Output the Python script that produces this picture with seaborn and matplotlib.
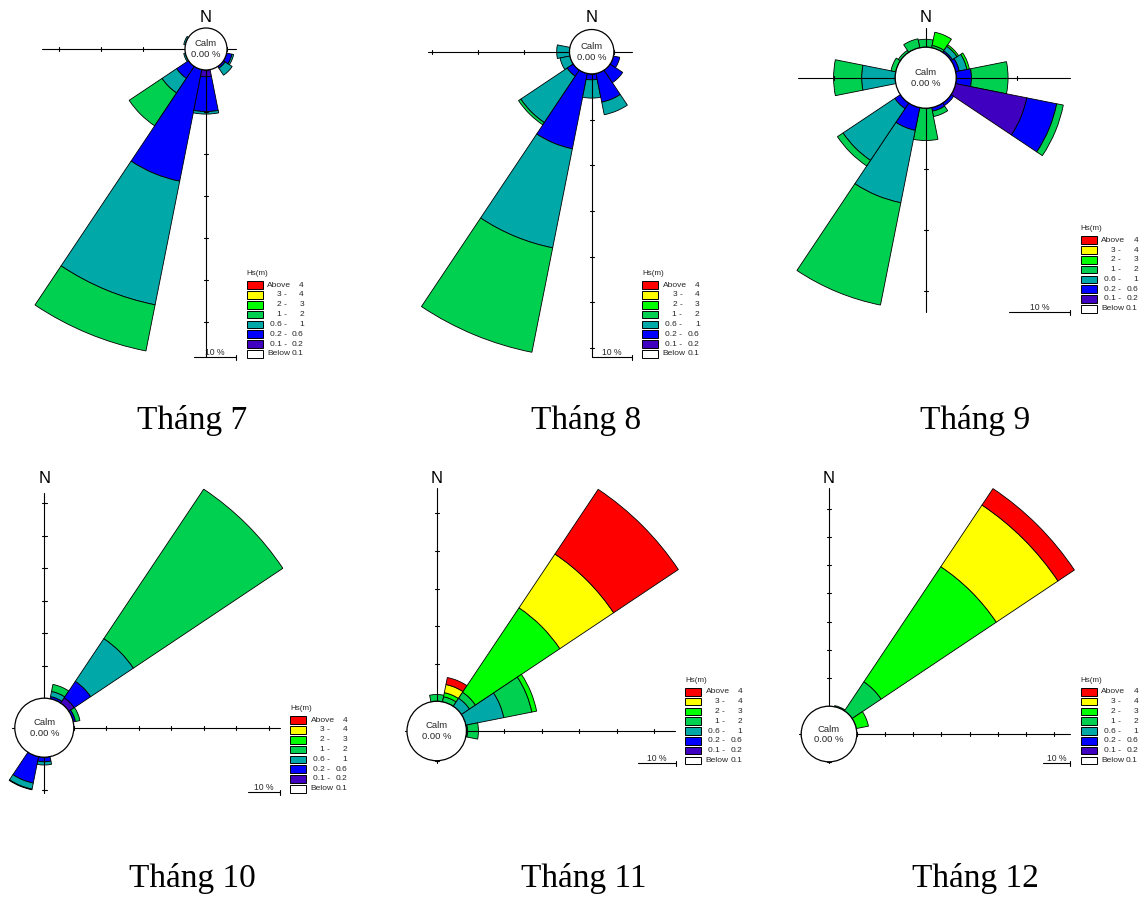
import matplotlib
matplotlib.use("Agg")
import matplotlib.pyplot as plt
from matplotlib.patches import Wedge, Circle, Rectangle
import seaborn as sns

# ---------------------------------------------------------------- data
DIRECTIONS = ["N", "NNE", "NE", "ENE", "E", "ESE", "SE", "SSE",
              "S", "SSW", "SW", "WSW", "W", "WNW", "NW", "NNW"]
HS_CLASSES = ["Below 0.1", "0.1 - 0.2", "0.2 - 0.6", "0.6 - 1",
              "1 - 2", "2 - 3", "3 - 4", "Above 4"]
HS_COLORS = ["#FFFFFF", "#4000C0", "#0000FF", "#00A8A8",
             "#00D050", "#00FF00", "#FFFF00", "#FF0000"]
LEGEND_LEFT = ["Above", "3 -", "2 -", "1 -", "0.6 -", "0.2 -", "0.1 -", "Below"]
LEGEND_RIGHT = ["4", "4", "3", "2", "1", "0.6", "0.2", "0.1"]
CALM_PCT = [0.0, 0.0, 0.0, 0.0, 0.0, 0.0]
TITLES = ["Tháng 7", "Tháng 8", "Tháng 9", "Tháng 10", "Tháng 11", "Tháng 12"]

# frequency (%) per direction; columns follow HS_CLASSES
JUL_DIRS = ["WNW", "WSW", "SW", "SSW", "S", "SE", "ESE"]
JUL_PCT = [
    [0, 0, 0.0, 0.4, 0.0, 0, 0, 0],
    [0, 0, 0.0, 0.4, 0.0, 0, 0, 0],
    [0, 0, 3.4, 4.2, 9.4, 0, 0, 0],
    [0, 0, 27.1, 30.0, 11.2, 0, 0, 0],
    [0, 1.6, 8.3, 0.6, 0.0, 0, 0, 0],
    [0, 0, 0.5, 2.0, 0.0, 0, 0, 0],
    [0, 0, 1.3, 0.4, 0.0, 0, 0, 0],
]

AUG_DIRS = ["W", "WSW", "SW", "SSW", "S", "SSE", "SE", "ESE"]
AUG_PCT = [
    [0, 0, 0.0, 2.8, 0.0, 0, 0, 0],
    [0, 0, 0.0, 2.2, 0.0, 0, 0, 0],
    [0, 0, 1.6, 12.2, 0.6, 0, 0, 0],
    [0, 0, 16.8, 22.1, 23.3, 0, 0, 0],
    [0, 0, 1.3, 4.0, 0.0, 0, 0, 0],
    [0, 0, 6.4, 2.8, 0.0, 0, 0, 0],
    [0, 0, 3.3, 0.0, 0.0, 0, 0, 0],
    [0, 0, 1.4, 0.0, 0.0, 0, 0, 0],
]

SEP_DIRS = ["N", "NNE", "NE", "ENE", "E", "ESE", "SE", "SSE",
            "S", "SSW", "SW", "W", "WNW", "NW", "NNW"]
SEP_PCT = [
    [0, 0, 0.0, 0.0, 1.3, 0.0, 0, 0],
    [0, 0, 0.0, 0.0, 0.4, 2.2, 0, 0],
    [0, 0, 0.3, 0.9, 0.0, 0.3, 0, 0],
    [0, 0, 0.6, 1.3, 0.0, 0.4, 0, 0],
    [0, 0, 2.5, 0.0, 6.0, 0.0, 0, 0],
    [0, 11.9, 5.0, 0.0, 1.1, 0.0, 0, 0],
    [0, 0, 0.5, 0.0, 0.0, 0.0, 0, 0],
    [0, 0, 0.6, 0.0, 0.9, 0.0, 0, 0],
    [0, 0, 0.0, 0.0, 5.3, 0.0, 0, 0],
    [0, 0, 3.8, 12.1, 17.1, 0.0, 0, 0],
    [0, 0, 1.1, 10.2, 1.1, 0.0, 0, 0],
    [0, 0, 0.0, 5.5, 4.6, 0.0, 0, 0],
    [0, 0, 0.0, 0.0, 0.8, 0.0, 0, 0],
    [0, 0, 0.0, 0.0, 0.4, 0.0, 0, 0],
    [0, 0, 0.0, 0.0, 1.5, 0.0, 0, 0],
]

OCT_DIRS = ["NNE", "NE", "ENE", "S", "SSW"]
OCT_PCT = [
    [0, 0.0, 0.7, 1.6, 2.2, 0, 0, 0],
    [0, 2.0, 6.1, 15.8, 55.3, 0, 0, 0],
    [0, 0.0, 0.7, 0.0, 1.4, 0, 0, 0],
    [0, 0.0, 1.4, 1.0, 0.0, 0, 0, 0],
    [0, 0.0, 8.3, 1.9, 0.2, 0, 0, 0],
]

NOV_DIRS = ["N", "NNE", "NE", "ENE", "E"]
NOV_PCT = [
    [0, 0, 0, 0.0, 1.8, 0.0, 0.0, 0.0],
    [0, 0, 0, 0.0, 1.4, 1.1, 2.2, 1.9],
    [0, 0, 0, 2.6, 1.9, 27.0, 17.2, 20.7],
    [0, 0, 0, 10.3, 7.6, 1.3, 0.0, 0.0],
    [0, 0, 0, 0.3, 2.9, 0.0, 0.0, 0.0],
]

DEC_DIRS = ["NNE", "NE", "ENE"]
DEC_PCT = [
    [0, 0, 0, 0, 0.4, 0.0, 0.0, 0.0],
    [0, 0, 0, 0, 12.4, 49.1, 26.3, 7.0],
    [0, 0, 0, 0, 0.0, 4.4, 0.0, 0.0],
]

MONTH_DATA = [(JUL_DIRS, JUL_PCT), (AUG_DIRS, AUG_PCT), (SEP_DIRS, SEP_PCT),
              (OCT_DIRS, OCT_PCT), (NOV_DIRS, NOV_PCT), (DEC_DIRS, DEC_PCT)]

# -------------------------------------------------------------- layout
# centre, calm radius, pixels per percent, axis extents, legend anchor,
# scale bar, "N" label and title positions (figure pixels)
LAYOUT = [
    dict(c=(206, 49), rc=21, s=4.2, hx=(42, 236), vy=(49, 357.3),
         leg=(246.5, 273.3), bar=(194.3, 236, 357.3), n=17, title=(192, 421)),
    dict(c=(591.7, 51.7), rc=22.2, s=4.57, hx=(428.3, 631.7), vy=(51.7, 357.3),
         leg=(642.3, 273.3), bar=(591.7, 632.3, 357.3), n=17.3, title=(586, 421)),
    dict(c=(925.7, 77.7), rc=30.5, s=6.1, hx=(798.3, 1070), vy=(28.3, 311.7),
         leg=(1080.7, 228.3), bar=(1009.3, 1070, 312.3), n=17.3, title=(975, 421)),
    dict(c=(44.3, 727.7), rc=29.5, s=3.25, hx=(11.7, 280), vy=(493.3, 793.3),
         leg=(290, 708.3), bar=(248.3, 280, 792.3), n=478.3, title=(192, 879)),
    dict(c=(436.7, 731), rc=29.7, s=3.76, hx=(405, 675), vy=(488.3, 763.3),
         leg=(685, 680), bar=(637.7, 675.7, 763.3), n=478.3, title=(584, 879)),
    dict(c=(829, 734), rc=27.8, s=2.82, hx=(799.3, 1070), vy=(488.3, 763.3),
         leg=(1080.7, 680), bar=(1042.7, 1070, 763.3), n=478.3, title=(975, 879)),
]

# -------------------------------------------------------------- styling
sns.set_theme(style="white")
plt.rcParams["font.family"] = ["Liberation Sans", "DejaVu Sans"]
palette = sns.color_palette(HS_COLORS)

W, H = 1142, 898
fig = plt.figure(figsize=(W / 100, H / 100), dpi=100)
ax = fig.add_axes([0, 0, 1, 1])
ax.set_xlim(0, W)
ax.set_ylim(H, 0)
ax.set_aspect("equal")
ax.axis("off")

HALF = 360 / len(DIRECTIONS) / 2
TEXT_GREY = "#262626"


def draw_rose(dirs, pct, lay):
    cx, cy = lay["c"]
    rc, s = lay["rc"], lay["s"]
    # stacked sectors
    for d, row in zip(dirs, pct):
        bearing = DIRECTIONS.index(d) * 22.5
        t1, t2 = bearing - HALF - 90, bearing + HALF - 90
        cum = 0.0
        for k, v in enumerate(row):
            if v <= 0:
                continue
            r_in = rc + cum * s
            cum += v
            r_out = rc + cum * s
            ax.add_patch(Wedge((cx, cy), r_out, t1, t2, width=r_out - r_in,
                               facecolor=palette[k], edgecolor="black",
                               linewidth=0.6, zorder=2))
    # cross-hair axes with 10 % ticks
    x0, x1 = lay["hx"]
    y0, y1 = lay["vy"]
    ax.plot([x0, x1], [cy, cy], color="black", lw=0.8, zorder=3)
    ax.plot([cx, cx], [y0, y1], color="black", lw=0.8, zorder=3)
    step = 10 * s
    for sign, lim in ((-1, cx - x0), (1, x1 - cx)):
        r = rc
        while r <= lim + 0.5:
            ax.plot([cx + sign * r] * 2, [cy - 2.2, cy + 2.2], color="black",
                    lw=0.8, zorder=3)
            r += step
    for sign, lim in ((-1, cy - y0), (1, y1 - cy)):
        r = rc
        while r <= lim + 0.5:
            ax.plot([cx - 2.2, cx + 2.2], [cy + sign * r] * 2, color="black",
                    lw=0.8, zorder=3)
            r += step
    # calm circle
    ax.add_patch(Circle((cx, cy), rc, facecolor="white", edgecolor="black",
                        linewidth=0.9, zorder=4))
    ax.text(cx, cy - 5, "Calm", ha="center", va="center", fontsize=6.8,
            color=TEXT_GREY, zorder=5)
    ax.text(cx, cy + 5.5, f"{lay['calm']:.2f} %", ha="center", va="center",
            fontsize=6.8, color=TEXT_GREY, zorder=5)
    ax.text(cx, lay["n"], "N", ha="center", va="center", fontsize=12,
            color="black", zorder=5)
    # scale bar
    bx0, bx1, by = lay["bar"]
    ax.plot([bx0, bx1], [by, by], color="black", lw=0.8)
    ax.plot([bx1, bx1], [by - 2.5, by + 2.5], color="black", lw=0.8)
    ax.text((bx0 + bx1) / 2, by - 2, "10 %", ha="center", va="baseline",
            fontsize=6.2, color=TEXT_GREY)
    # legend
    lx, ly = lay["leg"]
    ax.text(lx, ly, "Hs(m)", ha="left", va="center", fontsize=5.8,
            color=TEXT_GREY)
    for i in range(len(HS_CLASSES)):
        k = len(HS_CLASSES) - 1 - i
        top = ly + 8 + i * 9.8
        ax.add_patch(Rectangle((lx, top), 16, 7.6, facecolor=palette[k],
                               edgecolor="black", linewidth=0.7))
        yc = top + 3.9
        left = LEGEND_LEFT[i]
        if left in ("Above", "Below"):
            ax.text(lx + 20.5, yc, left, ha="left", va="center",
                    fontsize=6, color=TEXT_GREY)
        else:
            ax.text(lx + 40, yc, left, ha="right", va="center",
                    fontsize=6, color=TEXT_GREY)
        ax.text(lx + 57.3, yc, LEGEND_RIGHT[i], ha="right", va="center",
                fontsize=6, color=TEXT_GREY)
    # month title
    tx, ty = lay["title"]
    ax.text(tx, ty, lay["name"], ha="center", va="center", fontsize=24,
            family=["Liberation Serif", "DejaVu Serif"], color="black")


for (dirs, pct), lay, name, calm in zip(MONTH_DATA, LAYOUT, TITLES, CALM_PCT):
    lay = dict(lay, name=name, calm=calm)
    draw_rose(dirs, pct, lay)

fig.savefig("out.png", dpi=100)
